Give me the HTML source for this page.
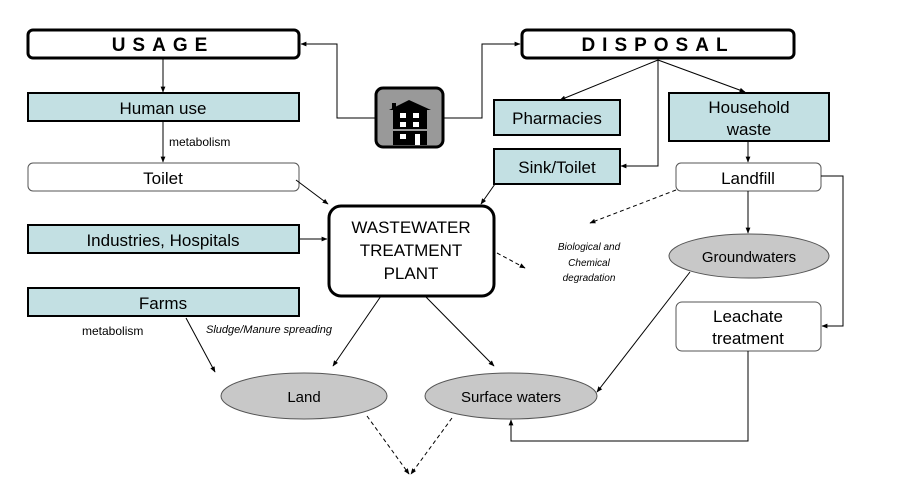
<!DOCTYPE html>
<html><head><meta charset="utf-8"><style>
html,body{margin:0;padding:0;background:#fff;}
svg{display:block;font-family:"Liberation Sans",Arial,sans-serif;}
</style></head><body>
<svg width="902" height="486" viewBox="0 0 902 486" xmlns="http://www.w3.org/2000/svg">
<defs>
<marker id="a" viewBox="0 0 10 10" refX="9" refY="5" markerWidth="6" markerHeight="6" orient="auto"><path d="M0,1 L10,5 L0,9 z" fill="#000"/></marker>
</defs>
<!-- boxes -->
<rect x="28" y="30" width="271" height="28" rx="5" fill="#fff" stroke="#000" stroke-width="3"/>
<text x="163" y="51" font-size="19" font-weight="bold" text-anchor="middle" letter-spacing="7">USAGE</text>
<rect x="522" y="30" width="272" height="28" rx="5" fill="#fff" stroke="#000" stroke-width="3"/>
<text x="658" y="51" font-size="19" font-weight="bold" text-anchor="middle" letter-spacing="7">DISPOSAL</text>

<rect x="28" y="93" width="271" height="28" fill="#c3e0e3" stroke="#000" stroke-width="2"/>
<text x="163" y="114" font-size="17" text-anchor="middle">Human use</text>
<rect x="28" y="163" width="271" height="28" rx="5" fill="#fff" stroke="#555" stroke-width="1"/>
<text x="163" y="184" font-size="17" text-anchor="middle">Toilet</text>
<rect x="28" y="225" width="271" height="28" fill="#c3e0e3" stroke="#000" stroke-width="2"/>
<text x="163" y="246" font-size="17" text-anchor="middle">Industries, Hospitals</text>
<rect x="28" y="288" width="271" height="28" fill="#c3e0e3" stroke="#000" stroke-width="2"/>
<text x="163" y="309" font-size="17" text-anchor="middle">Farms</text>

<rect x="494" y="100" width="126" height="35" fill="#c3e0e3" stroke="#000" stroke-width="2"/>
<text x="557" y="124" font-size="17" text-anchor="middle">Pharmacies</text>
<rect x="494" y="149" width="126" height="35" fill="#c3e0e3" stroke="#000" stroke-width="2"/>
<text x="557" y="173" font-size="17" text-anchor="middle">Sink/Toilet</text>
<rect x="669" y="93" width="160" height="48" fill="#c3e0e3" stroke="#000" stroke-width="2"/>
<text x="749" y="113" font-size="17" text-anchor="middle">Household</text>
<text x="749" y="135" font-size="17" text-anchor="middle">waste</text>
<rect x="676" y="163" width="145" height="28" rx="5" fill="#fff" stroke="#555" stroke-width="1"/>
<text x="748" y="184" font-size="17" text-anchor="middle">Landfill</text>

<rect x="329" y="206" width="165" height="90" rx="12" fill="#fff" stroke="#000" stroke-width="3"/>
<text x="411" y="233" font-size="17" text-anchor="middle">WASTEWATER</text>
<text x="411" y="256" font-size="17" text-anchor="middle">TREATMENT</text>
<text x="411" y="279" font-size="17" text-anchor="middle">PLANT</text>

<ellipse cx="749" cy="256" rx="80" ry="22" fill="#c8c8c8" stroke="#555" stroke-width="1"/>
<text x="749" y="262" font-size="15" text-anchor="middle">Groundwaters</text>
<rect x="676" y="302" width="145" height="49" rx="6" fill="#fff" stroke="#555" stroke-width="1"/>
<text x="748" y="322" font-size="17" text-anchor="middle">Leachate</text>
<text x="748" y="344" font-size="17" text-anchor="middle">treatment</text>
<ellipse cx="304" cy="396" rx="83" ry="23" fill="#c8c8c8" stroke="#555" stroke-width="1"/>
<text x="304" y="402" font-size="15" text-anchor="middle">Land</text>
<ellipse cx="511" cy="396" rx="86" ry="23" fill="#c8c8c8" stroke="#555" stroke-width="1"/>
<text x="511" y="402" font-size="15" text-anchor="middle">Surface waters</text>

<!-- labels -->
<text x="169" y="146" font-size="12">metabolism</text>
<text x="82" y="335" font-size="12">metabolism</text>
<text x="206" y="333" font-size="11" font-style="italic">Sludge/Manure spreading</text>
<g font-size="10" font-style="italic" text-anchor="middle">
<text x="589" y="250">Biological and</text>
<text x="589" y="266">Chemical</text>
<text x="589" y="281">degradation</text>
</g>

<!-- icon -->
<rect x="376" y="88" width="67" height="59" rx="7" fill="#999" stroke="#000" stroke-width="3"/>
<path d="M389,110 L409,100 L431,110 Z" fill="#000"/>
<rect x="392" y="103" width="4" height="6" fill="#000"/>
<rect x="393" y="110" width="34" height="35" fill="#000"/>
<rect x="400" y="113" width="6" height="5" fill="#fff"/><rect x="413" y="113" width="6" height="5" fill="#fff"/>
<rect x="400" y="122" width="6" height="5" fill="#fff"/><rect x="413" y="122" width="6" height="5" fill="#fff"/>
<rect x="393" y="129" width="34" height="2" fill="#999"/>
<rect x="400" y="134" width="6" height="5" fill="#fff"/><rect x="415" y="134" width="5" height="11" fill="#fff"/>

<!-- connectors -->
<g stroke="#000" stroke-width="1" fill="none" marker-end="url(#a)">
<path d="M375,118 H337 V44 H301"/>
<path d="M444,118 H482 V44 H520"/>
<path d="M163,58 V92"/>
<path d="M163,121 V162"/>
<path d="M658,60 L560,100"/>
<path d="M658,60 L745,92"/>
<path d="M658,60 V166 H621"/>
<path d="M748,141 V162"/>
<path d="M748,191 V233"/>
<path d="M821,176 H843 V326 H822"/>
<path d="M748,351 V441 H511 V420"/>
<path d="M690,272 L597,392"/>
<path d="M381,296 L333,366"/>
<path d="M425,296 L494,366"/>
<path d="M186,318 L215,372"/>
<path d="M296,180 L328,204"/>
<path d="M299,239 H327"/>
<path d="M495,184 L481,204"/>
</g>
<g stroke="#000" stroke-width="1" fill="none" stroke-dasharray="4,3" marker-end="url(#a)">
<path d="M676,190 L590,223"/>
<path d="M497,253 L525,268"/>
<path d="M367,416 L409,474"/>
<path d="M452,418 L411,474"/>
</g>
</svg>
</body></html>
